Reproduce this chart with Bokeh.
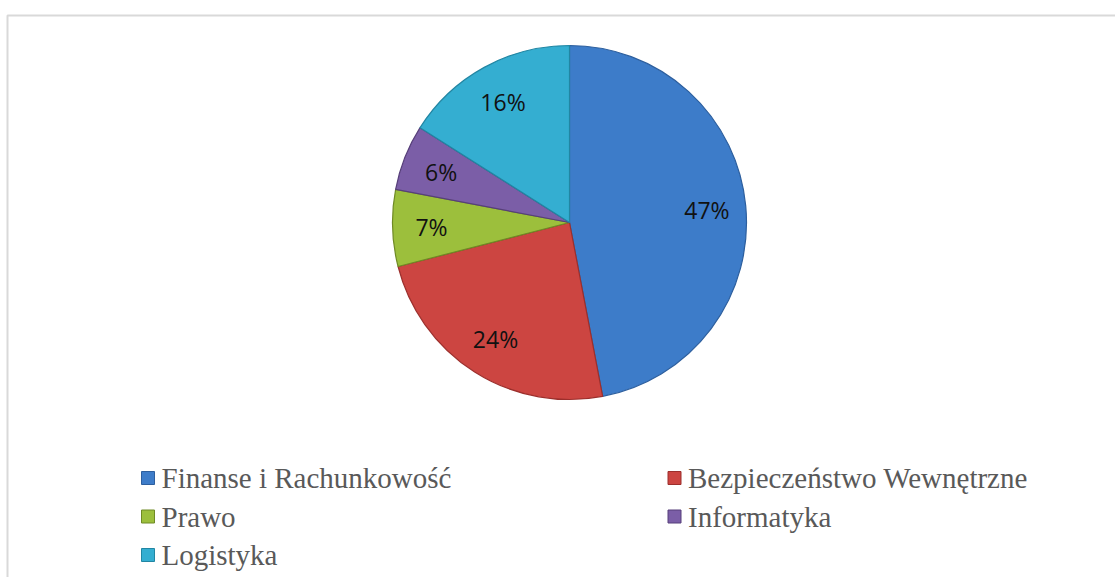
import math
from bokeh.plotting import figure
from bokeh.models import Range1d, ColumnDataSource
from bokeh.core.properties import value
from bokeh.embed import file_html
from bokeh.resources import INLINE

categories = ["Finanse i Rachunkowość", "Bezpieczeństwo Wewnętrzne", "Prawo", "Informatyka", "Logistyka"]
shares = [47, 24, 7, 6, 16]
labels = ["47%", "24%", "7%", "6%", "16%"]
colors = ["#3d7cc9", "#cc4541", "#9cbf3c", "#7b5ea7", "#34aed1"]
edge_colors = ["#2d5f9e", "#9c2f2c", "#6f8a25", "#573f7a", "#2186a3"]

W, H = 1115, 577
p = figure(width=W, height=H, x_range=Range1d(0, W), y_range=Range1d(0, H),
           output_backend="svg", toolbar_location=None, min_border=0)
p.axis.visible = False
p.grid.visible = False
p.outline_line_color = None
p.background_fill_color = "white"
p.border_fill_color = "white"

# chart frame (left and top edges visible)
p.line([7, 7, W], [0, 562, 562], line_color="#d9d9d9", line_width=2)

cx, cy, R = 569, 355, 177
total = sum(shares)
starts, ends, lx, ly = [], [], [], []
a = math.pi / 2
for s in shares:
    sweep = 2 * math.pi * s / total
    starts.append(a - sweep)
    ends.append(a)
    mid = a - sweep / 2
    lx.append(cx + 0.78 * R * math.cos(mid))
    ly.append(cy + 0.78 * R * math.sin(mid))
    a -= sweep

src = ColumnDataSource(dict(start=starts, end=ends, color=colors, edge=edge_colors,
                            lx=lx, ly=ly, label=labels))
p.wedge(x=cx, y=cy, radius=R, start_angle="start", end_angle="end", source=src,
        fill_color="color", line_color="edge", line_width=1.2)
p.text(x="lx", y="ly", text="label", source=src, text_align="center", text_baseline="middle",
       text_font=value("Open Sans"), text_font_size="23px", text_color="#111111")

# legend (2 columns)
lgx, lgy, colw, rowh = 147.5, 99.5, 526.5, 38.5
sq_x, sq_y, tx, ty = [], [], [], []
for i, c in enumerate(categories):
    col, row = i % 2, i // 2
    sq_x.append(lgx + col * colw)
    sq_y.append(lgy - row * rowh)
    tx.append(lgx + col * colw + 13.5)
    ty.append(lgy - row * rowh)
lsrc = ColumnDataSource(dict(x=sq_x, y=sq_y, tx=tx, ty=ty, name=categories, color=colors, edge=edge_colors))
p.rect(x="x", y="y", width=13, height=13, source=lsrc, fill_color="color", line_color="edge", line_width=1)
p.text(x="tx", y="ty", text="name", source=lsrc, text_align="left", text_baseline="middle",
       text_font=value("Liberation Serif"), text_font_size="29px", text_color="#595959")

open("out.html", "w").write(file_html(p, INLINE))
